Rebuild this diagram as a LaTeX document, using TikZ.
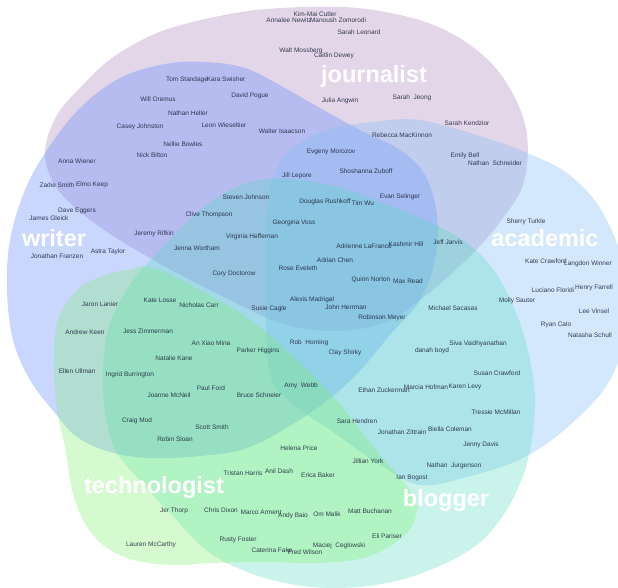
\documentclass[tikz,border=0pt]{standalone}
\usepackage{fontspec}
\setmainfont{Liberation Sans}
\definecolor{jcol}{RGB}{160,120,180}
\definecolor{wcol}{RGB}{100,140,255}
\definecolor{acol}{RGB}{130,190,245}
\definecolor{bcol}{RGB}{80,220,190}
\definecolor{tcol}{RGB}{120,240,100}
\definecolor{namecol}{RGB}{25,30,55}
\begin{document}
\begin{tikzpicture}[x=1pt,y=-1pt,
  person/.style={font=\fontsize{6.5}{7}\selectfont, text=namecol, text opacity=0.85, inner sep=0pt},
  setlabel/.style={font=\fontsize{23.5}{24}\selectfont\bfseries, text=white, inner sep=0pt},
  blob/.style={fill opacity=#1}]
\useasboundingbox (0,0) rectangle (618,588);
% journalist
\fill[jcol, blob=0.3] plot[smooth cycle, tension=0.6] coordinates {
 (45,150) (57,115) (80,88) (112,58) (157,33) (210,18) (267,9) (343,7) (400,15) (445,30) (485,57) (512,92) (527,135) (523,185) (500,222) (478,248) (450,275) (420,300) (387,322) (340,331) (290,326) (250,310) (200,285) (157,262) (110,234) (72,205) (52,180)};
% writer
\fill[wcol, blob=0.35] plot[smooth cycle, tension=0.6] coordinates {
 (47,150) (80,108) (120,78) (165,64) (205,62) (245,68) (285,88) (320,108) (360,130) (400,150) (425,175) (437,215) (435,260) (420,300) (390,335) (353,378) (310,413) (250,447) (200,456) (150,458) (110,452) (77,437) (55,413) (30,380) (13,340) (7,290) (10,240) (25,190)};
% academic
\fill[acol, blob=0.35] plot[smooth cycle, tension=0.6] coordinates {
 (268,200) (280,163) (300,143) (330,129) (373,122) (420,120) (483,137) (527,153) (567,173) (600,208) (622,260) (628,320) (610,380) (570,425) (523,458) (467,477) (420,485) (380,465) (333,432) (290,402) (270,375) (266,320) (266,260)};
% blogger
\fill[bcol, blob=0.3] plot[smooth cycle, tension=0.6] coordinates {
 (270,179) (330,185) (400,210) (455,235) (490,265) (515,310) (530,360) (535,410) (525,470) (500,520) (465,553) (400,580) (330,588) (265,578) (210,553) (170,513) (135,475) (113,445) (103,390) (108,330) (130,285) (160,250) (200,210) (235,188)};
% technologist
\fill[tcol, blob=0.3] plot[smooth cycle, tension=0.6] coordinates {
 (77,290) (100,277) (127,270) (153,268) (200,290) (257,325) (327,390) (380,455) (410,490) (417,510) (405,535) (367,557) (317,563) (267,562) (210,563) (183,565) (143,562) (110,550) (87,527) (73,493) (65,447) (57,410) (54,360) (58,320)};
% names
\node[person] (p1) at (289,20) {Annalee Newitz};
\node[person] (p2) at (315,14) {Kim-Mai Cutler};
\node[person] (p3) at (338,20) {Manoush Zomorodi};
\node[person] (p4) at (359,32) {Sarah Leonard};
\node[person] (p5) at (301,51) {Walt Mossberg};
\node[person] (p6) at (334,56) {Caitlin Dewey};
\node[person] (p7) at (340,101) {Julia Angwin};
\node[person] (p8) at (412,98) {Sarah\ \ Jeong};
\node[person] (p9) at (467,123) {Sarah Kendzior};
\node[person] (p10) at (402,135) {Rebecca MacKinnon};
\node[person] (p11) at (465,156) {Emily Bell};
\node[person] (p12) at (495,163) {Nathan\ \ Schneider};
\node[person] (p13) at (187,80) {Tom Standage};
\node[person] (p14) at (226,79) {Kara Swisher};
\node[person] (p15) at (158,99) {Will Oremus};
\node[person] (p16) at (250,96) {David Pogue};
\node[person] (p17) at (188,113) {Nathan Heller};
\node[person] (p18) at (224,125) {Leon Wieseltier};
\node[person] (p19) at (140,127) {Casey Johnston};
\node[person] (p20) at (282,131) {Walter Isaacson};
\node[person] (p21) at (183,144) {Nellie Bowles};
\node[person] (p22) at (152,155) {Nick Bilton};
\node[person] (p23) at (77,161) {Anna Wiener};
\node[person] (p24) at (57,185) {Zadie Smith};
\node[person] (p25) at (92,185) {Elmo Keep};
\node[person] (p26) at (331,152) {Evgeny Morozov};
\node[person] (p27) at (366,171) {Shoshanna Zuboff};
\node[person] (p28) at (297,176) {Jill Lepore};
\node[person] (p29) at (400,197) {Evan Selinger};
\node[person] (p30) at (246,197) {Steven Johnson};
\node[person] (p31) at (325,202) {Douglas Rushkoff};
\node[person] (p32) at (363,203) {Tim Wu};
\node[person] (p33) at (77,211) {Dave Eggers};
\node[person] (p34) at (49,218) {James Gleick};
\node[person] (p35) at (209,215) {Clive Thompson};
\node[person] (p36) at (526,222) {Sherry Turkle};
\node[person] (p37) at (294,223) {Georgina Voss};
\node[person] (p38) at (154,234) {Jeremy Rifkin};
\node[person] (p39) at (252,237) {Virginia Heffernan};
\node[person] (p40) at (448,242) {Jeff Jarvis};
\node[person] (p41) at (364,246) {Adrienne LaFrance};
\node[person] (p42) at (406,244) {Kashmir Hill};
\node[person] (p43) at (197,248) {Jenna Wortham};
\node[person] (p44) at (108,252) {Astra Taylor};
\node[person] (p45) at (57,256) {Jonathan Franzen};
\node[person] (p46) at (335,260) {Adrian Chen};
\node[person] (p47) at (546,261) {Kate Crawford};
\node[person] (p48) at (588,264) {Langdon Winner};
\node[person] (p49) at (298,268) {Rose Eveleth};
\node[person] (p50) at (234,274) {Cory Doctorow};
\node[person] (p51) at (371,280) {Quinn Norton};
\node[person] (p52) at (408,281) {Max Read};
\node[person] (p53) at (553,290) {Luciano Floridi};
\node[person] (p54) at (594,288) {Henry Farrell};
\node[person] (p55) at (312,300) {Alexis Madrigal};
\node[person] (p56) at (160,300) {Kate Losse};
\node[person] (p57) at (517,301) {Molly Sauter};
\node[person] (p58) at (100,304) {Jaron Lanier};
\node[person] (p59) at (199,305) {Nicholas Carr};
\node[person] (p60) at (346,307) {John Herrman};
\node[person] (p61) at (453,308) {Michael Sacasas};
\node[person] (p62) at (269,309) {Susie Cagle};
\node[person] (p63) at (594,311) {Lee Vinsel};
\node[person] (p64) at (382,318) {Robinson Meyer};
\node[person] (p65) at (556,325) {Ryan Calo};
\node[person] (p66) at (148,331) {Jess Zimmerman};
\node[person] (p67) at (85,332) {Andrew Keen};
\node[person] (p68) at (590,335) {Natasha Schull};
\node[person] (p69) at (211,343) {An Xiao Mina};
\node[person] (p70) at (309,343) {Rob\ \ Horning};
\node[person] (p71) at (478,344) {Siva Vaidhyanathan};
\node[person] (p72) at (258,351) {Parker Higgins};
\node[person] (p73) at (432,351) {danah boyd};
\node[person] (p74) at (345,353) {Clay Shirky};
\node[person] (p75) at (174,358) {Natalie Kane};
\node[person] (p76) at (77,371) {Ellen Ullman};
\node[person] (p77) at (130,375) {Ingrid Burrington};
\node[person] (p78) at (497,373) {Susan Crawford};
\node[person] (p79) at (301,386) {Amy\ \ Webb};
\node[person] (p80) at (211,388) {Paul Ford};
\node[person] (p81) at (384,390) {Ethan Zuckerman};
\node[person] (p82) at (426,387) {Marcia Hofman};
\node[person] (p83) at (465,387) {Karen Levy};
\node[person] (p84) at (169,395) {Joanne McNeil};
\node[person] (p85) at (259,395) {Bruce Schneier};
\node[person] (p86) at (496,412) {Tressie McMillan};
\node[person] (p87) at (137,421) {Craig Mod};
\node[person] (p88) at (357,421) {Sara Hendren};
\node[person] (p89) at (212,427) {Scott Smith};
\node[person] (p90) at (402,432) {Jonathan Zittrain};
\node[person] (p91) at (450,429) {Biella Coleman};
\node[person] (p92) at (175,439) {Robin Sloan};
\node[person] (p93) at (481,445) {Jenny Davis};
\node[person] (p94) at (299,448) {Helena Price};
\node[person] (p95) at (368,461) {Jillian York};
\node[person] (p96) at (454,466) {Nathan\ \ Jurgenson};
\node[person] (p97) at (243,473) {Tristan Harris};
\node[person] (p98) at (279,471) {Anil Dash};
\node[person] (p99) at (318,475) {Erica Baker};
\node[person] (p100) at (412,478) {Ian Bogost};
\node[person] (p101) at (221,510) {Chris Dixon};
\node[person] (p102) at (174,511) {Jer Thorp};
\node[person] (p103) at (261,512) {Marco Arment};
\node[person] (p104) at (293,516) {Andy Baio};
\node[person] (p105) at (327,514) {Om Malik};
\node[person] (p106) at (370,511) {Matt Buchanan};
\node[person] (p107) at (387,536) {Eli Pariser};
\node[person] (p108) at (238,540) {Rusty Foster};
\node[person] (p109) at (151,545) {Lauren McCarthy};
\node[person] (p110) at (339,546) {Maciej\ \ Ceglowski};
\node[person] (p111) at (272,550) {Caterina Fake};
\node[person] (p112) at (305,552) {Fred Wilson};
% set labels
\node[setlabel] (ljour) at (374,76) {journalist};
\node[setlabel] (lwri) at (54,238) {writer};
\node[setlabel] (lacad) at (545,238) {academic};
\node[setlabel] (ltech) at (154,487) {technologist};
\node[setlabel] (lblog) at (446,500) {blogger};
\end{tikzpicture}
\end{document}
